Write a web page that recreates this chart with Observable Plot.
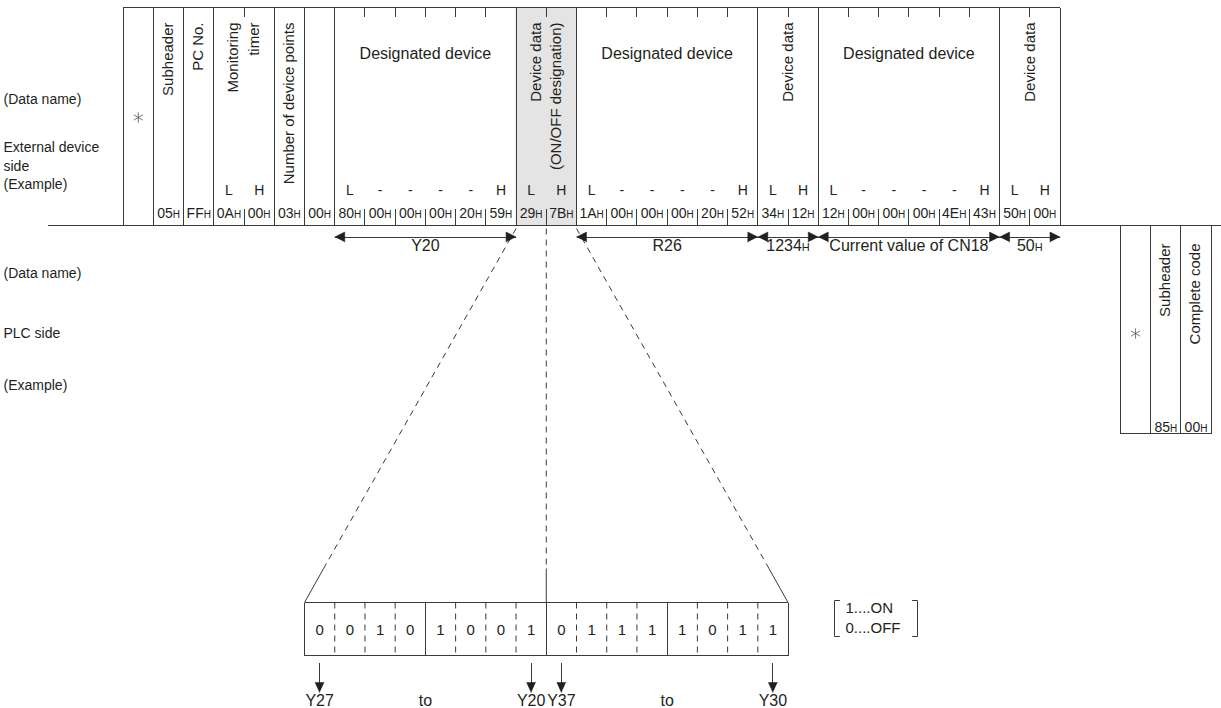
<!DOCTYPE html>
<html><head><meta charset="utf-8">
<script src="https://cdn.jsdelivr.net/npm/d3@7"></script>
<script src="https://cdn.jsdelivr.net/npm/@observablehq/plot@0.6"></script>
<style>
html,body{margin:0;padding:0;background:#fff;}
#chart svg{display:block;}
</style></head><body><div id="chart"></div>
<script>
// ---------------- DATA ----------------
const requestRowLabels = ["(Data name)", "External device\nside", "(Example)"];
const responseRowLabels = ["(Data name)", "PLC side", "(Example)"];
const requestFieldNames = ["*", "Subheader", "PC No.", "Monitoring\ntimer", "Number of device points", "", "Designated device", "Device data\n(ON/OFF designation)", "Designated device", "Device data", "Designated device", "Device data"];
const requestFieldBytes = [1, 1, 1, 2, 1, 1, 6, 2, 6, 2, 6, 2];
const requestHex = ["", "05", "FF", "0A", "00", "03", "00", "80", "00", "00", "00", "20", "59", "29", "7B", "1A", "00", "00", "00", "20", "52", "34", "12", "12", "00", "00", "00", "4E", "43", "50", "00"];
const requestOrder = ["", "", "", "L", "H", "", "", "L", "-", "-", "-", "-", "H", "L", "H", "L", "-", "-", "-", "-", "H", "L", "H", "L", "-", "-", "-", "-", "H", "L", "H"];
const rangeLabels = ["Y20", "R26", "1234H", "Current value of CN18", "50H"];
const rangeFields = [6, 8, 9, 10, 11];
const zoomField = 7;
const responseFieldNames = ["*", "Subheader", "Complete code"];
const responseHex = ["", "85", "00"];
const bitValues = ["0", "0", "1", "0", "1", "0", "0", "1", "0", "1", "1", "1", "1", "0", "1", "1"];
const bitLabels = ["Y27", "Y20", "Y37", "Y30"];
const bitLabelIndex = [0, 7, 8, 15];
const bitRangeWords = ["to", "to"];
const legendLines = ["1....ON", "0....OFF"];

// ---------------- LAYOUT ----------------
const W = 1221, H = 708;
const X0 = 122.7, CW = 30.22;          // byte grid origin / width (px)
const pu = p => p / CW;                 // px length -> byte units
const ux = p => (p - X0) / CW;          // page px -> byte units
const LY = {top: 7, bottom: 225, tickTop: 16, tickBottom: 208, nameTop: 22, designated: 53, star: 117,
  order: 190, hex: 217.5, arrow: 236.5, rangeText: 250,
  respBottom: 433, respStar: 333, respNameTop: 243, respHex: 431.5,
  zoomSolid: 568, bitTop: 602, bitBottom: 655, bitText: 634, bitArrowTop: 662, bitArrowTip: 692, bitLabel: 705,
  leg1: 608, leg2: 628, legTop: 600, legBottom: 636,
  rowReq: [97, 155, 182], rowResp: [271, 331, 383]};
const respStart = 33, bitStart = 6;
const FONT = "'Liberation Sans', Arial, Helvetica, sans-serif";
const INK = "#231f20", LINEC = "#3a3a3a", GRAY = "#e4e4e4";

const CHW = {"0":.556,"1":.556,"2":.556,"3":.556,"4":.556,"5":.556,"6":.556,"7":.556,"8":.556,"9":.556,"A":.667,"B":.667,"C":.722,"D":.722,"E":.667,"F":.611,"H":.722};
const textW = (s, size) => [...s].reduce((w, c) => w + (CHW[c] ?? .6), 0) * size;

// ---------------- GEOMETRY (derived) ----------------
const solid = [], dashed = [], diag = [], thin = [], tris = [];
const seg = (arr, x1, y1, x2, y2) => arr.push({x1, y1, x2, y2});
let triId = 0;
const triH = (x, y, dir) => { const id = triId++; const b = x - dir * pu(10);
  tris.push({id, x, y}, {id, x: b, y: y - 5}, {id, x: b, y: y + 5}); };
const triDown = (x, y) => { const id = triId++;
  tris.push({id, x, y}, {id, x: x - pu(4.5), y: y - 10}, {id, x: x + pu(4.5), y: y - 10}); };

const fieldStart = []; let acc = 0;
for (const b of requestFieldBytes) { fieldStart.push(acc); acc += b; }
const nBytes = acc;

seg(solid, 0, LY.top, nBytes, LY.top);
seg(solid, ux(47), LY.bottom, ux(W), LY.bottom);
[...fieldStart, nBytes].forEach(s => seg(solid, s, LY.top, s, LY.bottom));
requestFieldBytes.forEach((b, f) => {
  for (let k = 1; k < b; k++) {
    const s = fieldStart[f] + k;
    seg(solid, s, LY.top, s, LY.tickTop);
    seg(solid, s, LY.tickBottom, s, LY.bottom);
  }
});

// range arrows
rangeFields.forEach(f => {
  const s = fieldStart[f], e = s + requestFieldBytes[f];
  seg(solid, s, LY.arrow, e, LY.arrow);
  triH(s, LY.arrow, -1); triH(e, LY.arrow, 1);
});

// zoom lines to bit box
const zs = fieldStart[zoomField], ze = zs + requestFieldBytes[zoomField], zm = (zs + ze) / 2;
const bitEnd = bitStart + bitValues.length;
const tt = (LY.zoomSolid - LY.bottom) / (LY.bitTop - LY.bottom);
[[zs, bitStart], [zm, (bitStart + bitEnd) / 2], [ze, bitEnd]].forEach(([a, b]) => {
  const xm = a + (b - a) * tt;
  seg(dashed, a, LY.bottom + 3, xm, LY.zoomSolid);
  seg(diag, xm, LY.zoomSolid, b, LY.bitTop);
});

// bit box
seg(solid, bitStart, LY.bitTop, bitEnd, LY.bitTop);
seg(solid, bitStart, LY.bitBottom, bitEnd, LY.bitBottom);
for (let i = 0; i <= bitValues.length; i++)
  seg(i % 4 === 0 ? solid : dashed, bitStart + i, LY.bitTop, bitStart + i, LY.bitBottom);
bitLabelIndex.forEach(i => {
  const x = bitStart + i + 0.5;
  seg(solid, x, LY.bitArrowTop, x, LY.bitArrowTip - 8);
  triDown(x, LY.bitArrowTip);
});

// response box
for (let k = 0; k <= responseFieldNames.length; k++)
  seg(solid, respStart + k, LY.bottom, respStart + k, LY.respBottom);
seg(solid, respStart, LY.respBottom, respStart + responseFieldNames.length, LY.respBottom);

// stars
const star = (cx, cy) => [90, 30, 150].forEach(a => {
  const r = 5.2, dx = pu(r * Math.cos(a * Math.PI / 180)), dy = r * Math.sin(a * Math.PI / 180);
  seg(thin, cx - dx, cy - dy, cx + dx, cy + dy);
});
star(0.5, LY.star);
star(respStart + 0.5, LY.respStar);

// legend brackets
const brackets = [
  {id: 0, x: ux(839), y: LY.legTop}, {id: 0, x: ux(834), y: LY.legTop}, {id: 0, x: ux(834), y: LY.legBottom}, {id: 0, x: ux(839), y: LY.legBottom},
  {id: 1, x: ux(912), y: LY.legTop}, {id: 1, x: ux(917), y: LY.legTop}, {id: 1, x: ux(917), y: LY.legBottom}, {id: 1, x: ux(912), y: LY.legBottom}
];

// ---------------- TEXT (derived) ----------------
const vertNames = [], horizNames = [];
requestFieldNames.forEach((n, f) => {
  const c = fieldStart[f] + requestFieldBytes[f] / 2;
  if (n === "" || n === "*") return;
  if (n === "Designated device") horizNames.push({x: c, y: LY.designated, text: n});
  else vertNames.push({x: c - pu(2), y: LY.nameTop, text: n});
});
responseFieldNames.forEach((n, k) => {
  if (n === "*") return;
  vertNames.push({x: respStart + k + 0.5 - pu(3), y: LY.respNameTop, text: n});
});
const orderMarks = requestOrder.map((t, i) => ({x: i + 0.5, y: LY.order, text: t})).filter(d => d.text);

const hexMain = [], hexSub = [], bigMain = [], bigSub = [];
function pushHex(mainArr, subArr, cx, y, main, size, subSize) {
  const wm = textW(main, size), ws = textW("H", subSize);
  const left = cx - pu((wm + ws) / 2);
  mainArr.push({x: left, y, text: main});
  subArr.push({x: left + pu(wm), y, text: "H"});
}
requestHex.forEach((h, i) => { if (h) pushHex(hexMain, hexSub, i + 0.5, LY.hex, h, 14, 10); });
responseHex.forEach((h, k) => { if (h) pushHex(hexMain, hexSub, respStart + k + 0.5, LY.respHex, h, 14, 10); });

const rangePlain = [];
rangeLabels.forEach((lab, r) => {
  const f = rangeFields[r], c = fieldStart[f] + requestFieldBytes[f] / 2;
  const m = lab.match(/^([0-9A-F]+)H$/);
  if (m) pushHex(bigMain, bigSub, c, LY.rangeText, m[1], 16, 11);
  else rangePlain.push({x: c, y: LY.rangeText, text: lab});
});

const rowLabels = [
  ...requestRowLabels.map((t, j) => ({x: ux(3), y: LY.rowReq[j], text: t})),
  ...responseRowLabels.map((t, j) => ({x: ux(3), y: LY.rowResp[j], text: t}))
];
const bits = bitValues.map((v, i) => ({x: bitStart + i + 0.5, y: LY.bitText, text: v}));
const bitLab = bitLabels.map((t, j) => ({x: bitStart + bitLabelIndex[j] + 0.5, y: LY.bitLabel, text: t}));
const toWords = bitRangeWords.map((t, j) => ({
  x: bitStart + (bitLabelIndex[2 * j] + bitLabelIndex[2 * j + 1]) / 2 + 0.5, y: LY.bitLabel, text: t}));
const legend = legendLines.map((t, j) => ({x: ux(845), y: j ? LY.leg2 : LY.leg1, text: t}));

const L = {x1: "x1", y1: "y1", x2: "x2", y2: "y2"};
const T = {x: "x", y: "y", text: "text", fill: INK, fontFamily: FONT};

const chart = Plot.plot({
  width: W, height: H,
  margin: 0,
  x: {type: "linear", domain: [ux(0), ux(W)], range: [0, W], axis: null},
  y: {type: "linear", domain: [0, H], range: [0, H], axis: null},
  style: {background: "#fff", fontFamily: FONT},
  marks: [
    Plot.rect([{x1: zs, x2: ze, y1: LY.top, y2: LY.bottom}], {x1: "x1", x2: "x2", y1: "y1", y2: "y2", fill: GRAY}),
    Plot.link(solid, {...L, stroke: LINEC, strokeWidth: 1, shapeRendering: "crispEdges"}),
    Plot.link(diag, {...L, stroke: LINEC, strokeWidth: 1}),
    Plot.link(dashed, {...L, stroke: LINEC, strokeWidth: 1, strokeDasharray: "6,5"}),
    Plot.link(thin, {...L, stroke: "#555", strokeWidth: 0.8}),
    Plot.line(tris, {x: "x", y: "y", z: "id", fill: INK, stroke: INK, strokeWidth: 0.5, curve: "linear"}),
    Plot.line(brackets, {x: "x", y: "y", z: "id", stroke: LINEC, strokeWidth: 1, curve: "linear"}),
    Plot.text(vertNames, {...T, rotate: -90, textAnchor: "end", lineAnchor: "middle", lineHeight: 1.4, fontSize: 15}),
    Plot.text(horizNames, {...T, fontSize: 16}),
    Plot.text(orderMarks, {...T, fontSize: 14}),
    Plot.text(hexMain, {...T, textAnchor: "start", lineAnchor: "bottom", fontSize: 14}),
    Plot.text(hexSub, {...T, textAnchor: "start", lineAnchor: "bottom", fontSize: 10}),
    Plot.text(bigMain, {...T, textAnchor: "start", lineAnchor: "bottom", fontSize: 16}),
    Plot.text(bigSub, {...T, textAnchor: "start", lineAnchor: "bottom", fontSize: 11}),
    Plot.text(rangePlain, {...T, lineAnchor: "bottom", fontSize: 16}),
    Plot.text(rowLabels, {...T, textAnchor: "start", lineHeight: 1.35, fontSize: 14}),
    Plot.text(bits, {...T, lineAnchor: "bottom", fontSize: 15}),
    Plot.text(bitLab, {...T, lineAnchor: "bottom", fontSize: 16}),
    Plot.text(toWords, {...T, lineAnchor: "bottom", fontSize: 16}),
    Plot.text(legend, {...T, textAnchor: "start", fontSize: 15})
  ]
});
document.getElementById("chart").appendChild(chart);
</script></body></html>
